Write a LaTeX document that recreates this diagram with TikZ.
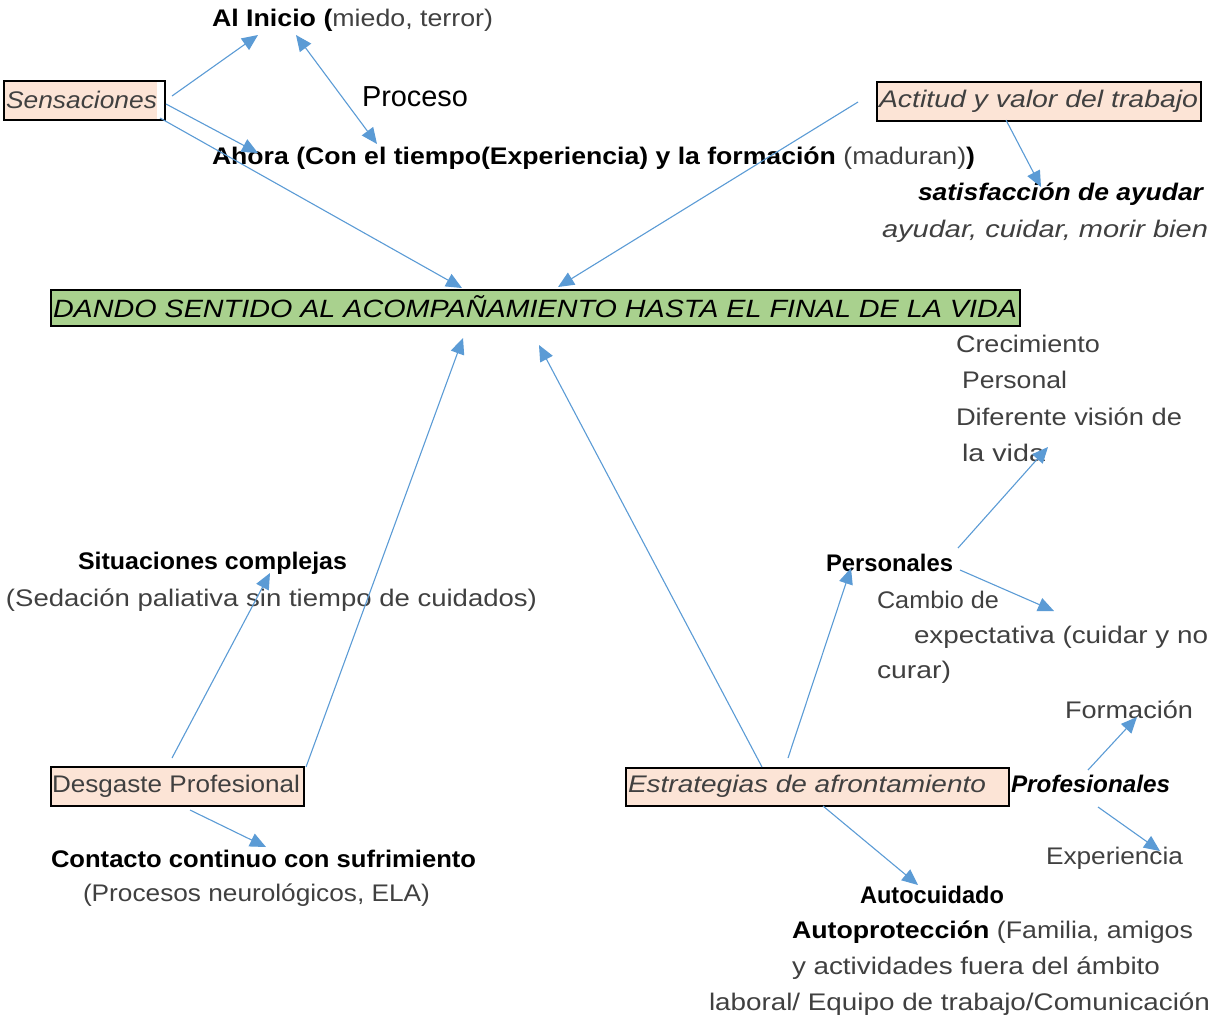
\documentclass[tikz,border=0pt]{standalone}
\usepackage{fontspec}
\setmainfont{Liberation Sans}
\newfontfamily\arialf{Liberation Sans}
\usetikzlibrary{arrows.meta}
\definecolor{cblue}{HTML}{5B9BD5}
\definecolor{peach}{HTML}{FCE4D6}
\definecolor{lgreen}{HTML}{A9D18E}
\definecolor{cgray}{HTML}{404040}
% fit text to a width, keeping the font size (width-only scaling)
\newcommand\fw[3][24]{\resizebox{#2pt}{\height}{\fontsize{#1}{#1}\selectfont #3}}
\newcommand\gr[1]{{\mdseries\color{cgray}#1}}
\tikzset{
  txt/.style={anchor=west, inner sep=0pt, outer sep=0pt},
  bk/.style={txt, text=black, font=\bfseries},
  gy/.style={txt, text=cgray},
  box/.style={draw=black, line width=1.6pt, anchor=north west, inner sep=0pt},
  arr/.style={draw=cblue, line width=1.1pt, -{Triangle[length=16pt,width=14pt]}},
  darr/.style={draw=cblue, line width=1.1pt, {Triangle[length=16pt,width=14pt]}-{Triangle[length=16pt,width=14pt]}}
}
\begin{document}
\begin{tikzpicture}[x=1pt,y=-1pt]
\useasboundingbox (0,0) rectangle (1212,1026);
% boxes
\fill[peach] (3,80) rectangle (157,119);
\node[box, minimum width=161pt, minimum height=39pt] (sens) at (3,80) {};
\node[box, fill=peach, minimum width=324pt, minimum height=39pt] (act) at (876,81) {};
\node[box, fill=lgreen, minimum width=969pt, minimum height=36pt] (main) at (50,289) {};
\node[box, fill=peach, minimum width=253pt, minimum height=39pt] (desg) at (50,766) {};
\node[box, fill=peach, minimum width=383pt, minimum height=38pt] (estr) at (625,767) {};
% box texts
\node[gy] (senst) at (6,100) {\fw{151}{\itshape Sensaciones}};
\node[gy] (actt) at (879,101) {\fw{319}{\itshape Actitud y valor del trabajo}};
\node[txt] (maint) at (53,307) {\fw[25]{964}{\itshape DANDO SENTIDO AL ACOMPAÑAMIENTO HASTA EL FINAL DE LA VIDA}};
\node[gy] (desgt) at (52,786) {\fw{248}{Desgaste Profesional}};
\node[gy] (estrt) at (628,786) {\fw{358}{\itshape Estrategias de afrontamiento}};
% free texts
\node[bk] (ini) at (212,20) {\fw{281}{Al Inicio (\gr{miedo, terror)}}};
\node[txt] (proc) at (362,97) {\resizebox{106pt}{!}{\arialf Proceso}};
\node[bk] (ahora) at (212,158) {\fw{763}{Ahora (Con el tiempo(Experiencia) y la formación \gr{(maduran)})}};
\node[bk] (satis) at (918,194) {\fw{285}{\itshape satisfacción de ayudar}};
\node[gy] (ayud) at (882,231) {\fw{326}{\itshape ayudar, cuidar, morir bien}};
\node[gy] (crec1) at (956,344) {\fw{144}{Crecimiento}};
\node[gy] (crec2) at (962,380) {\fw{105}{Personal}};
\node[gy] (crec3) at (956,417) {\fw{226}{Diferente visión de}};
\node[gy] (crec4) at (962,453) {\fw{83}{la vida}};
\node[bk] (situ) at (78,563) {\fw{269}{Situaciones complejas}};
\node[gy] (seda) at (6,600) {\fw{531}{(Sedación paliativa sin tiempo de cuidados)}};
\node[bk] (pers) at (826,563) {\fw{127}{Personales}};
\node[gy] (camb1) at (877,600) {\fw{122}{Cambio de}};
\node[gy] (camb2) at (914,637) {\fw{294}{expectativa (cuidar y no}};
\node[gy] (camb3) at (877,672) {\fw{74}{curar)}};
\node[gy] (form) at (1065,710) {\fw{128}{Formación}};
\node[bk] (prof) at (1011,784) {\fw{159}{\itshape Profesionales}};
\node[bk] (cont) at (51,859) {\fw{425}{Contacto continuo con sufrimiento}};
\node[gy] (neur) at (83,895) {\fw{347}{(Procesos neurológicos, ELA)}};
\node[gy] (expe) at (1046,858) {\fw{137}{Experiencia}};
\node[bk] (auto1) at (860,895) {\fw{144}{Autocuidado}};
\node[bk] (auto2) at (792,932) {\fw{401}{Autoprotección \gr{(Familia, amigos}}};
\node[gy] (auto3) at (792,968) {\fw{368}{y actividades fuera del ámbito}};
\node[gy] (auto4) at (709,1004) {\fw{501}{laboral/ Equipo de trabajo/Comunicación}};
% connector end points
\coordinate (a0) at (172,96);   \coordinate (a1) at (258,35);
\coordinate (b0) at (296,35);   \coordinate (b1) at (377,144);
\coordinate (c0) at (166,104);  \coordinate (c1) at (258,153);
\coordinate (d0) at (160,118);  \coordinate (d1) at (462,288);
\coordinate (e0) at (858,102);  \coordinate (e1) at (558,287);
\coordinate (f0) at (1006,120); \coordinate (f1) at (1041,187);
\coordinate (g0) at (306,767);  \coordinate (g1) at (463,338);
\coordinate (h0) at (172,758);  \coordinate (h1) at (270,573);
\coordinate (i0) at (190,810);  \coordinate (i1) at (266,847);
\coordinate (j0) at (762,767);  \coordinate (j1) at (539,345);
\coordinate (k0) at (788,758);  \coordinate (k1) at (851,568);
\coordinate (l0) at (958,548);  \coordinate (l1) at (1048,447);
\coordinate (m0) at (960,570);  \coordinate (m1) at (1054,611);
\coordinate (n0) at (823,806);  \coordinate (n1) at (918,885);
\coordinate (o0) at (1088,770); \coordinate (o1) at (1137,717);
\coordinate (p0) at (1098,807); \coordinate (p1) at (1160,851);
\draw[arr] (a0) -- (a1);
\draw[darr] (b0) -- (b1);
\draw[arr] (c0) -- (c1);
\draw[arr] (d0) -- (d1);
\draw[arr] (e0) -- (e1);
\draw[arr] (f0) -- (f1);
\draw[arr] (g0) -- (g1);
\draw[arr] (h0) -- (h1);
\draw[arr] (i0) -- (i1);
\draw[arr] (j0) -- (j1);
\draw[arr] (k0) -- (k1);
\draw[arr] (l0) -- (l1);
\draw[arr] (m0) -- (m1);
\draw[arr] (n0) -- (n1);
\draw[arr] (o0) -- (o1);
\draw[arr] (p0) -- (p1);
\end{tikzpicture}
\end{document}
